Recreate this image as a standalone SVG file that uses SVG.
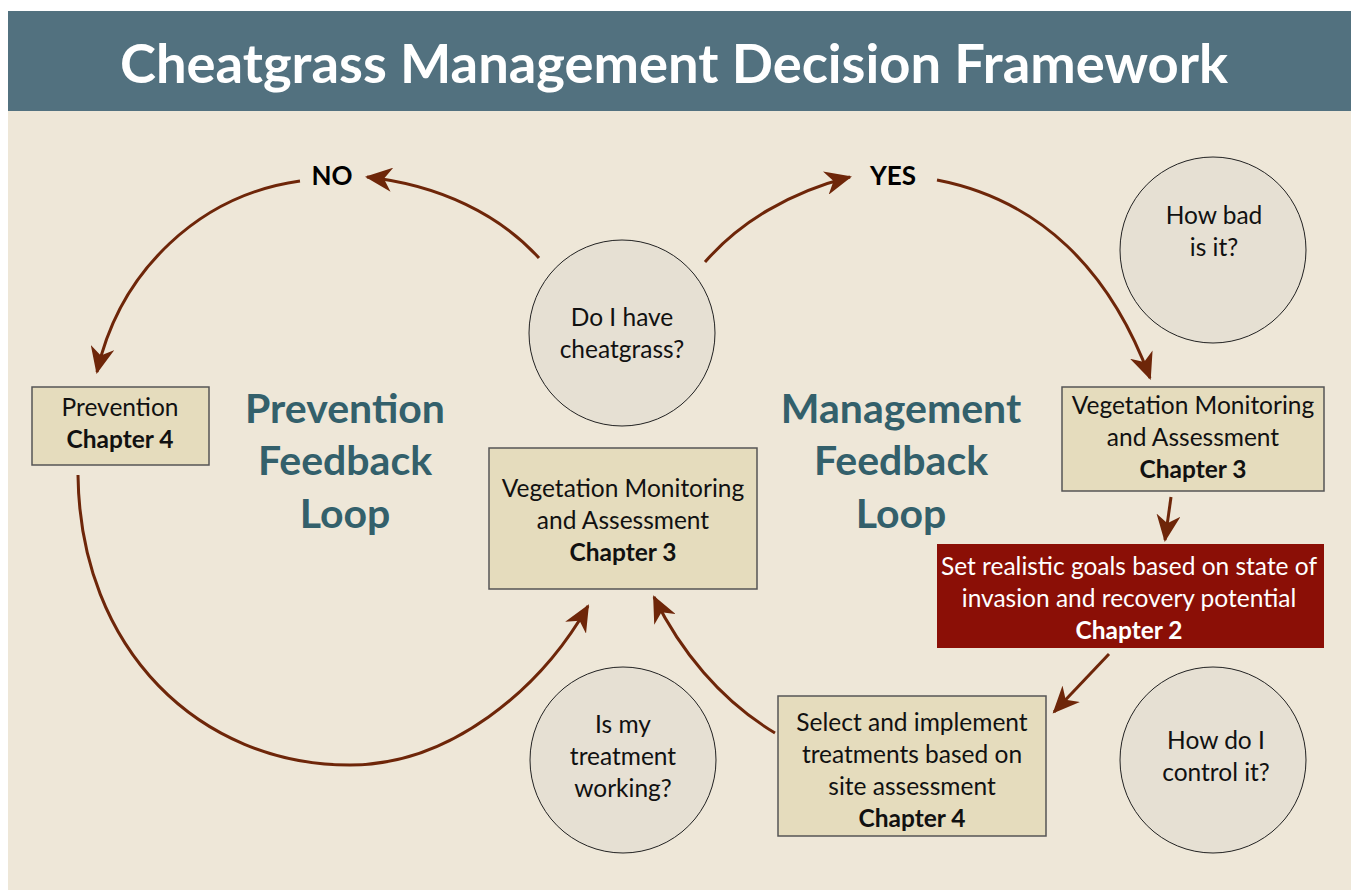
<svg xmlns="http://www.w3.org/2000/svg" width="1351" height="895" viewBox="0 0 1351 895">
<defs>
<style>
.t{font-family:Lato,"Open Sans",sans-serif;font-size:24.5px;fill:#111;text-anchor:middle}
.b{font-weight:bold}
.w{fill:#fff}
.loop{font-family:Lato,"Open Sans",sans-serif;font-size:41px;font-weight:bold;fill:#33606B;text-anchor:middle}
.lbl{font-family:Lato,"Open Sans",sans-serif;font-size:26px;font-weight:bold;fill:#000;text-anchor:middle}
.box{fill:#E5DCBD;stroke:#555;stroke-width:1.5}
.circ{fill:#E6E0D3;stroke:#222;stroke-width:1}
.con{fill:none;stroke:#6E2609;stroke-width:3;marker-end:url(#ah)}
</style>
<marker id="ah" markerUnits="userSpaceOnUse" markerWidth="28" markerHeight="24" refX="25" refY="12" orient="auto" viewBox="0 0 28 24">
<path d="M0,0 L27,12 L0,24 L8,12 z" fill="#6E2609"/>
</marker>
</defs>
<rect x="0" y="0" width="1351" height="895" fill="#fff"/>
<rect x="8" y="111" width="1343" height="779" fill="#EEE7D8"/>
<g id="title">
<rect x="8" y="11" width="1343" height="100" fill="#52717F"/>
<text x="674" y="83" font-family="Lato,'Open Sans',sans-serif" font-size="54" font-weight="bold" fill="#fff" text-anchor="middle" textLength="1108" lengthAdjust="spacingAndGlyphs">Cheatgrass Management Decision Framework</text>
</g>
<g id="connectors">
<path class="con" d="M539,258 C500,215 440,185 367,177"/>
<path class="con" d="M300,181 C200,195 120,270 97,372"/>
<path class="con" d="M705,262 C740,222 790,192 850,177"/>
<path class="con" d="M937,180 C1040,200 1110,270 1150,378"/>
<path class="con" d="M1171,497 L1165,540"/>
<path class="con" d="M1109,654 L1054,712"/>
<path class="con" d="M78,475 C80,650 200,765 350,765 C450,765 540,690 588,606"/>
<path class="con" d="M775,733 C720,700 680,650 654,597"/>
</g>
<g id="label-no"><text class="lbl" x="332" y="185">NO</text></g>
<g id="label-yes"><text class="lbl" x="893" y="185">YES</text></g>
<g id="prevention-loop-title">
<text class="loop" x="345" y="423">Prevention</text>
<text class="loop" x="345" y="475">Feedback</text>
<text class="loop" x="345" y="528">Loop</text>
</g>
<g id="management-loop-title">
<text class="loop" x="901" y="423">Management</text>
<text class="loop" x="901" y="475">Feedback</text>
<text class="loop" x="901" y="528">Loop</text>
</g>
<g id="q-cheatgrass">
<circle class="circ" cx="622" cy="333" r="93"/>
<text class="t" x="622" y="326">Do I have</text>
<text class="t" x="622" y="358">cheatgrass?</text>
</g>
<g id="prevention">
<rect class="box" x="32" y="387" width="177" height="78"/>
<text class="t" x="120" y="416">Prevention</text>
<text class="t b" x="120" y="448">Chapter 4</text>
</g>
<g id="veg-mid">
<rect class="box" x="489" y="448" width="268" height="141"/>
<text class="t" x="623" y="497">Vegetation Monitoring</text>
<text class="t" x="623" y="529">and Assessment</text>
<text class="t b" x="623" y="561">Chapter 3</text>
</g>
<g id="veg-right">
<rect class="box" x="1062" y="387" width="262" height="104"/>
<text class="t" x="1193" y="414">Vegetation Monitoring</text>
<text class="t" x="1193" y="446">and Assessment</text>
<text class="t b" x="1193" y="478">Chapter 3</text>
</g>
<g id="q-howbad">
<circle class="circ" cx="1213" cy="250" r="93"/>
<text class="t" x="1214" y="224">How bad</text>
<text class="t" x="1214" y="256">is it?</text>
</g>
<g id="goals">
<rect x="937" y="544" width="387" height="104" fill="#8B0F06"/>
<text class="t w" x="1129" y="575">Set realistic goals based on state of</text>
<text class="t w" x="1129" y="607">invasion and recovery potential</text>
<text class="t w b" x="1129" y="639">Chapter 2</text>
</g>
<g id="select">
<rect class="box" x="778" y="696" width="268" height="140"/>
<text class="t" x="912" y="731">Select and implement</text>
<text class="t" x="912" y="763">treatments based on</text>
<text class="t" x="912" y="795">site assessment</text>
<text class="t b" x="912" y="827">Chapter 4</text>
</g>
<g id="q-control">
<circle class="circ" cx="1213" cy="760" r="93"/>
<text class="t" x="1216" y="749">How do I</text>
<text class="t" x="1216" y="781">control it?</text>
</g>
<g id="q-working">
<circle class="circ" cx="623" cy="760" r="93"/>
<text class="t" x="623" y="733">Is my</text>
<text class="t" x="623" y="765">treatment</text>
<text class="t" x="623" y="797">working?</text>
</g>
</svg>
